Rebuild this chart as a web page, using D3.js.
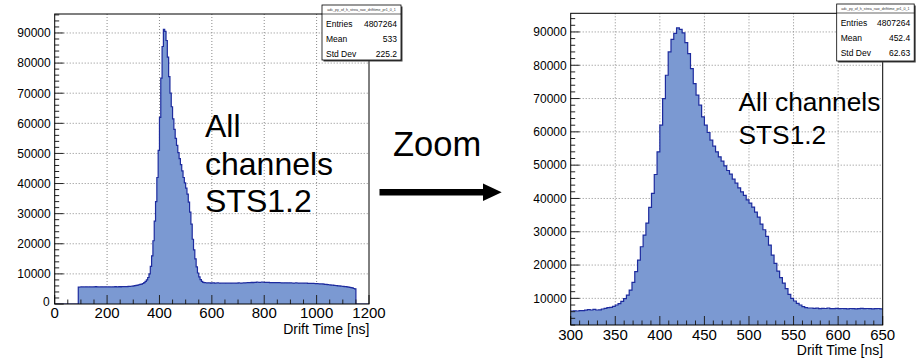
<!DOCTYPE html>
<html>
<head>
<meta charset="utf-8">
<script src="https://cdn.jsdelivr.net/npm/d3@7"></script>
<style>
  body { margin: 0; background: #fff; }
  svg { font-family: "Liberation Sans", Arial, sans-serif; }
</style>
</head>
<body>
<div id="chart"></div>
<script>
// Full range histogram, 5 ns bins from 0 to 1200 ns
const fullStart = 0;
const fullBinWidth = 5;
const fullCounts = [
  // 0 - 95
  0, 0, 0, 0, 0, 0, 0, 0, 0, 0,
  0, 0, 0, 0, 0, 0, 0, 0, 5600, 5650,
  // 100 - 295
  5700, 5680, 5650, 5700, 5720, 5650, 5700, 5680, 5650, 5700,
  5720, 5750, 5700, 5680, 5650, 5700, 5700, 5680, 5720, 5700,
  5650, 5700, 5680, 5650, 5700, 5720, 5750, 5700, 5720, 5750,
  5700, 5750, 5780, 5750, 5800, 5800, 5820, 5850, 5900, 5950,
  // 300 - 595
  6000, 6100, 6200, 6300, 6400, 6500, 6600, 6800, 7100, 7500,
  8000, 8800, 10000, 12500, 16000, 21000, 27500, 34000, 42000, 51000,
  62000, 75000, 85500, 91200, 90500, 87500, 82000, 75500, 70000, 65500,
  61500, 58000, 55000, 52700, 50300, 48300, 46300, 44200, 42000, 40200,
  38500, 36500, 33800, 30500, 26500, 21500, 18000, 15000, 12300, 10300,
  9000, 8100, 7500, 7200, 7100, 7050, 7000, 7050, 7000, 6950,
  // 600 - 1145
  7000, 7020, 6950, 6970, 7000, 6980, 6950, 6930, 6900, 6920,
  6950, 6930, 6900, 6920, 6950, 6970, 6900, 6920, 6950, 6930,
  7000, 6980, 6950, 6970, 7000, 7020, 7050, 7070, 7100, 7120,
  7150, 7130, 7200, 7180, 7250, 7230, 7200, 7220, 7250, 7230,
  7200, 7180, 7150, 7170, 7100, 7120, 7100, 7080, 7050, 7070,
  7100, 7080, 7050, 7030, 7000, 7020, 7050, 7030, 7000, 7020,
  7000, 6980, 6950, 6970, 7000, 6980, 6950, 6930, 6900, 6920,
  6950, 6930, 6900, 6880, 6850, 6870, 6800, 6820, 6800, 6780,
  6750, 6730, 6700, 6680, 6650, 6600, 6550, 6500, 6450, 6400,
  6350, 6300, 6250, 6200, 6150, 6100, 6050, 6000, 5950, 5900,
  5850, 5800, 5750, 5700, 5600, 5550, 5450, 5350, 5150, 5050,
  // 1150 - 1195
  0, 0, 0, 0, 0, 0, 0, 0, 0, 0
];

// Zoomed histogram, 3.125 ns bins from 300 to 650 ns
const zoomStart = 300;
const zoomBinWidth = 3.125;
const zoomCounts = [
  6200, 6250, 6200, 6300, 6300, 6450, 6600, 6500, 6700, 6500,
  6550, 6800, 7000, 7200, 7300, 7600, 8000, 8400, 9100, 9900,
  11000, 12500, 14800, 18000, 21500, 25500, 29000, 32600, 37300, 41500,
  47200, 54000, 62000, 70000, 77000, 84000, 87800, 89600, 91200, 90800,
  89700, 86800, 83500, 79000, 74500, 71000, 68000, 64500, 62000, 59800,
  57500, 55700, 54000, 52500, 51200, 49800, 48400, 47300, 45800, 44600,
  43200, 42000, 40900, 39600, 38600, 37400, 35900, 34400, 32300, 30600,
  28600, 26000, 23000, 20500, 18200, 16200, 14600, 12900, 11200, 10000,
  9200, 8500, 8000, 7500, 7200, 7100, 7100, 7000, 7050, 6900,
  7000, 6950, 7100, 6900, 6900, 7000, 6900, 6950, 6900, 6850,
  6950, 6900, 6850, 6900, 7000, 6900, 6950, 6900, 6850, 6900,
  6950, 6850
];

const fullXTicks = [0, 200, 400, 600, 800, 1000, 1200];
const fullYTicks = [0, 10000, 20000, 30000, 40000, 50000, 60000, 70000, 80000, 90000];
const zoomXTicks = [300, 350, 400, 450, 500, 550, 600, 650];
const zoomYTicks = [10000, 20000, 30000, 40000, 50000, 60000, 70000, 80000, 90000];

const statLabels = ["Entries", "Mean", "Std Dev"];
const fullStats = ["4807264", "533", "225.2"];
const zoomStats = ["4807264", "452.4", "62.63"];
const histName = "adc_py_of_h_strea_raw_drifttime_pr1_0_1";
const xTitle = "Drift Time [ns]";

const width = 922;
const height = 362;
const fillColor = "#7b99d2";
const lineColor = "#1d2b9e";

const svg = d3.select("#chart")
  .append("svg")
  .attr("width", width)
  .attr("height", height);

function drawPanel(p) {
  const x = d3.scaleLinear().domain(p.xDomain).range([p.left, p.right]);
  const y = d3.scaleLinear().domain(p.yDomain).range([p.bottom, p.top]);
  const g = svg.append("g");

  g.append("clipPath").attr("id", p.id)
    .append("rect")
    .attr("x", p.left).attr("y", p.top)
    .attr("width", p.right - p.left).attr("height", p.bottom - p.top);

  // grid
  g.selectAll(".gx")
    .data(p.xTicks.filter(d => d > p.xDomain[0] && d < p.xDomain[1]))
    .enter().append("line")
    .attr("x1", d => x(d)).attr("x2", d => x(d))
    .attr("y1", p.top).attr("y2", p.bottom)
    .attr("stroke", "#8a8a8a").attr("stroke-dasharray", "1,2");
  g.selectAll(".gy")
    .data(p.yTicks.filter(d => d > p.yDomain[0]))
    .enter().append("line")
    .attr("x1", p.left).attr("x2", p.right)
    .attr("y1", d => y(d)).attr("y2", d => y(d))
    .attr("stroke", "#8a8a8a").attr("stroke-dasharray", "1,2");

  // histogram bins
  const pts = p.counts.map((v, i) => [p.start + i * p.binWidth, v]);
  pts.push([p.start + p.counts.length * p.binWidth, p.counts[p.counts.length - 1]]);

  const area = d3.area()
    .curve(d3.curveStepAfter)
    .x(d => x(d[0]))
    .y0(y(p.yDomain[0]))
    .y1(d => y(d[1]));
  const line = d3.line()
    .curve(d3.curveStepAfter)
    .x(d => x(d[0]))
    .y(d => y(d[1]));

  const hist = g.append("g").attr("clip-path", `url(#${p.id})`);
  hist.append("path").attr("d", area(pts)).attr("fill", fillColor);
  hist.append("path").attr("d", line(pts))
    .attr("fill", "none").attr("stroke", lineColor).attr("stroke-width", 1.2);

  // ticks, drawn inside the frame like ROOT does
  const xMinor = d3.range(p.xDomain[0], p.xDomain[1] + 0.001, p.xMinorStep);
  g.selectAll(".tx")
    .data(xMinor)
    .enter().append("line")
    .attr("x1", d => x(d)).attr("x2", d => x(d))
    .attr("y1", p.bottom)
    .attr("y2", d => p.bottom - (p.xTicks.includes(d) ? 9 : 4.5))
    .attr("stroke", "#222");
  const yMinor = d3.range(Math.ceil(p.yDomain[0] / 2000) * 2000, p.yDomain[1], 2000);
  g.selectAll(".ty")
    .data(yMinor)
    .enter().append("line")
    .attr("y1", d => y(d)).attr("y2", d => y(d))
    .attr("x1", p.left)
    .attr("x2", d => p.left + (d % 10000 === 0 ? 9 : 4.5))
    .attr("stroke", "#222");

  // frame
  g.append("rect")
    .attr("x", p.left).attr("y", p.top)
    .attr("width", p.right - p.left).attr("height", p.bottom - p.top)
    .attr("fill", "none").attr("stroke", "#000");

  // tick labels
  g.selectAll(".lx")
    .data(p.xTicks)
    .enter().append("text")
    .attr("x", d => x(d))
    .attr("y", p.bottom + p.xLabelGap)
    .attr("text-anchor", "middle")
    .attr("font-size", 15)
    .text(d => d);
  g.selectAll(".ly")
    .data(p.yTicks)
    .enter().append("text")
    .attr("x", d => p.left - (d === 0 ? 5 : 4))
    .attr("y", d => y(d) + (d === 0 ? 2 : 4.3))
    .attr("text-anchor", "end")
    .attr("font-size", 12)
    .text(d => d);

  g.append("text")
    .attr("x", p.right + 0.5)
    .attr("y", p.bottom + p.titleGap)
    .attr("text-anchor", "end")
    .attr("font-size", 14)
    .text(xTitle);

  // stats box
  const s = p.stats;
  g.append("rect")
    .attr("x", s.x + 1.5).attr("y", s.y + 1.5)
    .attr("width", s.w).attr("height", s.h)
    .attr("fill", "#444");
  g.append("rect")
    .attr("x", s.x).attr("y", s.y)
    .attr("width", s.w).attr("height", s.h)
    .attr("fill", "#fff").attr("stroke", "#000").attr("stroke-width", 0.8);
  g.append("line")
    .attr("x1", s.x).attr("x2", s.x + s.w)
    .attr("y1", s.y + 9).attr("y2", s.y + 9)
    .attr("stroke", "#000").attr("stroke-width", 0.6);
  g.append("text")
    .attr("x", s.x + s.w / 2).attr("y", s.y + 6.3)
    .attr("text-anchor", "middle")
    .attr("font-size", 3.6)
    .attr("fill", "#333")
    .text(histName);
  statLabels.forEach((lab, i) => {
    g.append("text")
      .attr("x", s.x + 4).attr("y", s.y + 21.5 + i * 15)
      .attr("font-size", 8.5)
      .text(lab);
    g.append("text")
      .attr("x", s.x + s.w - 4).attr("y", s.y + 21.5 + i * 15)
      .attr("text-anchor", "end")
      .attr("font-size", 8.5)
      .text(p.statValues[i]);
  });

  // annotation
  p.note.lines.forEach((t, i) => {
    g.append("text")
      .attr("x", p.note.x)
      .attr("y", p.note.y + i * p.note.step)
      .attr("font-size", p.note.size)
      .text(t);
  });
}

drawPanel({
  id: "clipFull",
  left: 54.7, right: 369, top: 14, bottom: 304,
  xDomain: [0, 1200], yDomain: [0, 96300],
  xTicks: fullXTicks, yTicks: fullYTicks, xMinorStep: 50,
  start: fullStart, binWidth: fullBinWidth, counts: fullCounts,
  xLabelGap: 13.5, titleGap: 30,
  stats: { x: 322, y: 5, w: 79, h: 55 },
  statValues: fullStats,
  note: { x: 205, y: 137, step: 37.5, size: 32, lines: ["All", "channels", "STS1.2"] }
});

drawPanel({
  id: "clipZoom",
  left: 570.7, right: 882.7, top: 13.3, bottom: 325,
  xDomain: [300, 650], yDomain: [2000, 95600],
  xTicks: zoomXTicks, yTicks: zoomYTicks, xMinorStep: 10,
  start: zoomStart, binWidth: zoomBinWidth, counts: zoomCounts,
  xLabelGap: 15, titleGap: 30,
  stats: { x: 836.7, y: 4, w: 77.5, h: 57 },
  statValues: zoomStats,
  note: { x: 738.5, y: 111, step: 32.5, size: 26.3, lines: ["All channels", "STS1.2"] }
});

// "Zoom" label and arrow between the panels
svg.append("text")
  .attr("x", 393)
  .attr("y", 156)
  .attr("font-size", 34.5)
  .text("Zoom");

svg.append("line")
  .attr("x1", 379.5).attr("x2", 486)
  .attr("y1", 192.3).attr("y2", 192.3)
  .attr("stroke", "#000").attr("stroke-width", 6.5);
svg.append("path")
  .attr("d", "M483,183.5 L501.7,192.3 L483,201.1 Z")
  .attr("fill", "#000");
</script>
</body>
</html>
